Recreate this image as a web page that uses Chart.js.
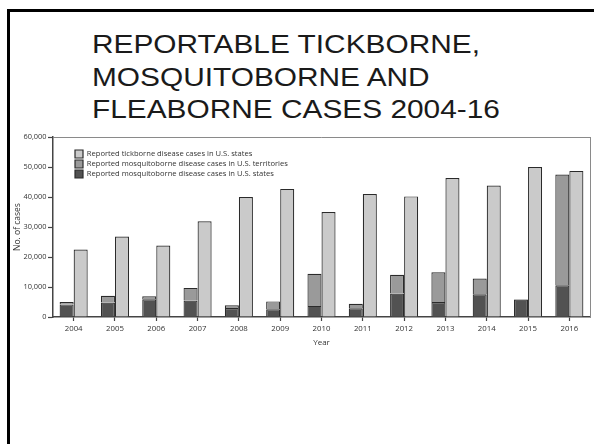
<!DOCTYPE html>
<html>
<head>
<meta charset="utf-8">
<script src="https://cdn.jsdelivr.net/npm/chart.js@4/dist/chart.umd.min.js"></script>
<style>
  html, body { margin: 0; padding: 0; background: #fff; }
  body { width: 594px; height: 444px; position: relative; overflow: hidden; }
  #frame { position: absolute; left: 7px; top: 9px; width: 600px; height: 460px;
           border-left: 3px solid #000; border-top: 3px solid #000; box-sizing: border-box; }
  #title { position: absolute; left: 92px; top: 28px; font-family: "Liberation Sans", Arial, sans-serif;
           font-size: 25.5px; line-height: 32.5px; color: #1a1a1a; white-space: nowrap;
           transform: scaleX(1.17); transform-origin: 0 0; }
  #wrap { position: absolute; left: 0; top: 0; width: 594px; height: 444px; }
</style>
</head>
<body>
<div id="frame"></div>
<div id="title">REPORTABLE TICKBORNE,<br>MOSQUITOBORNE AND<br>FLEABORNE CASES 2004-16</div>
<div id="wrap"><canvas id="c"></canvas></div>
<script>
const years = ['2004','2005','2006','2007','2008','2009','2010','2011','2012','2013','2014','2015','2016'];
const tickborneStates = [22500, 26800, 23800, 31900, 40000, 42700, 35000, 41000, 40200, 46300, 43800, 50000, 48700];
const mosquitoStates = [4200, 4800, 5900, 5500, 3000, 2600, 3700, 2900, 7800, 5000, 7600, 5800, 10600];
const mosquitoTerritories = [800, 2300, 1000, 4200, 900, 2600, 10700, 1500, 6300, 9900, 5200, 150, 36900];
const yTicks = [0, 10000, 20000, 30000, 40000, 50000, 60000];

const FONT = '"Open Sans", "Liberation Sans", sans-serif';
const TEXT = '#333333';
const EDGE = '#2b2b2b';

const legendOffset = {
  id: 'legendOffset',
  afterLayout(chart) {
    const lg = chart.legend;
    const h = lg.height;
    lg.left = chart.chartArea.left + 20;
    lg.top = chart.chartArea.top + 11;
    lg.bottom = lg.top + h;
  }
};

new Chart(document.getElementById('c'), {
  type: 'bar',
  data: {
    labels: years,
    datasets: [
      { label: 'Reported mosquitoborne disease cases in U.S. states', data: mosquitoStates, stack: 'm',
        backgroundColor: '#525252', borderColor: EDGE, borderWidth: 1.2 },
      { label: 'Reported mosquitoborne disease cases in U.S. territories', data: mosquitoTerritories, stack: 'm',
        backgroundColor: '#9a9a9a', borderColor: EDGE, borderWidth: 1.2 },
      { label: 'Reported tickborne disease cases in U.S. states', data: tickborneStates, stack: 't',
        backgroundColor: '#cacaca', borderColor: EDGE, borderWidth: 1.2 }
    ]
  },
  options: {
    responsive: true,
    maintainAspectRatio: false,
    animation: false,
    datasets: { bar: { categoryPercentage: 0.68, barPercentage: 1.0 } },
    layout: { padding: { left: 10, top: 137, right: 4, bottom: 94 } },
    plugins: {
      title: { display: false },
      tooltip: { enabled: false },
      legend: {
        position: 'chartArea',
        align: 'start',
        reverse: true,
        labels: {
          boxWidth: 8, boxHeight: 8, padding: 2,
          color: TEXT,
          font: { family: FONT, size: 7.6 }
        }
      }
    },
    scales: {
      x: {
        stacked: true,
        offset: true,
        grid: { display: true, offset: false, drawOnChartArea: false, tickLength: 4, tickColor: '#444', tickWidth: 1.2 },
        border: { display: true, color: '#444', width: 1.5 },
        ticks: { color: TEXT, font: { family: FONT, size: 7.8 }, padding: 3, maxRotation: 0 },
        title: { display: true, text: 'Year', color: TEXT, font: { family: FONT, size: 8 }, padding: { top: 0, bottom: 2 } },
        afterFit(scale) { scale.height = 33; }
      },
      y: {
        stacked: true,
        min: 0, max: 60000,
        afterBuildTicks(scale) { scale.ticks = yTicks.map(v => ({ value: v })); },
        grid: {
          color: (ctx) => (ctx.tick && ctx.tick.value === 60000) ? '#8a8a8a' : 'rgba(0,0,0,0)',
          lineWidth: 1,
          tickLength: 5, tickColor: '#444', tickWidth: 1.2
        },
        border: { display: true, color: '#444', width: 1.5 },
        ticks: {
          color: TEXT, font: { family: FONT, size: 7.4 }, padding: 1.5,
          callback: (v) => v.toLocaleString('en-US')
        },
        title: { display: true, text: 'No. of cases', color: TEXT, font: { family: FONT, size: 8.5 }, padding: { top: 2, bottom: 0 } },
        afterFit(scale) { scale.width = 43; }
      },
      y2: {
        position: 'right',
        display: true,
        grid: { display: false, drawTicks: false },
        ticks: { display: false },
        border: { display: true, color: '#8a8a8a', width: 1 },
        afterFit(scale) { scale.width = 0; }
      }
    }
  },
  plugins: [legendOffset]
});
</script>
</body>
</html>
